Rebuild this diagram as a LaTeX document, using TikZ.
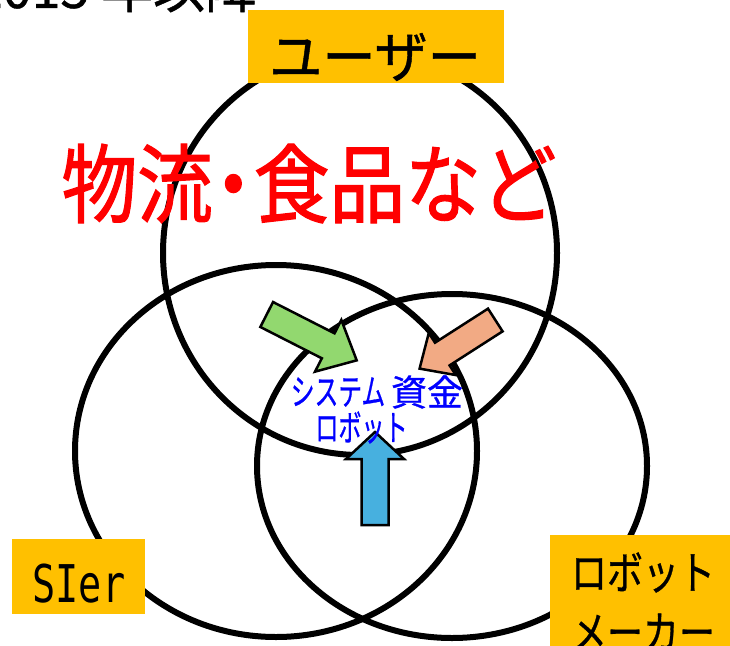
\documentclass[tikz,border=0pt]{standalone}
\usepackage{fontspec}
\usepackage{graphicx}
\newfontfamily\jp[FakeBold=0.8]{Noto Sans CJK JP}
\newfontfamily\jpred[FakeBold=1.5]{Noto Sans CJK JP}
\newfontfamily\gmono{DejaVu Sans Mono}
\definecolor{boxyellow}{HTML}{FFC000}
\definecolor{agreen}{HTML}{92D86F}
\definecolor{aorange}{HTML}{F2AA84}
\definecolor{ablue}{HTML}{47B0DF}
\tikzset{
  venn/.style={draw=black, line width=6pt},
  labelbox/.style={fill=boxyellow, draw=none},
  blockarrow/.style={draw=black, line width=2.5pt, line join=miter},
  txt/.style={inner sep=0pt, outer sep=0pt},
}
\begin{document}
\begin{tikzpicture}[x=1pt, y=-1pt]
\useasboundingbox (0,0) rectangle (730,645);
\clip (0,0) rectangle (730,645);
\fill[white] (0,0) rectangle (730,645);

% cropped title
\node[txt, anchor=base east] (title) at (257,8) {\jp\fontsize{52}{60}\selectfont 2015 年以降};

% Venn ellipses
\draw[venn] (360,253) ellipse [x radius=197, y radius=202];
\draw[venn] (276,451) ellipse [x radius=201, y radius=186];
\draw[venn] (452,466) ellipse [x radius=195, y radius=172];

% label boxes
\fill[labelbox] (248,10) rectangle (504,83);
\node[txt] (user) at (375,57) {\jp\fontsize{56}{64}\selectfont\scalebox{0.95}[1]{ユーザー}};

\fill[labelbox] (12,539) rectangle (145,614);
\node[txt] (sier) at (79,584) {\gmono\fontsize{52}{60}\selectfont\scalebox{0.74}[1]{SIer}};

\fill[labelbox] (550,535) rectangle (735,650);
\node[txt] (maker1) at (643,572.5) {\jp\fontsize{45}{52}\selectfont\scalebox{0.8}[1]{ロボット}};
\node[txt] (maker2) at (643,632) {\jp\fontsize{45}{52}\selectfont\scalebox{0.8}[1]{メーカー}};

% red heading
\node[txt, text=red] (field) at (309,183.5) {\jpred\fontsize{86}{100}\selectfont\scalebox{0.88}[1]{物流\kern-0.23em・\kern-0.23em食品など}};

% block arrows
\begin{scope}[shift={(266.7,314.5)}, rotate=-27]
  \draw[blockarrow, fill=agreen] (0,-14) -- (69,-14) -- (69,-29) -- (101,0) -- (69,29) -- (69,14) -- (0,14) -- cycle;
\end{scope}
\begin{scope}[shift={(495.3,320)}, rotate=-147.3]
  \draw[blockarrow, fill=aorange] (0,-13.5) -- (63,-13.5) -- (63,-25) -- (90,0) -- (63,25) -- (63,13.5) -- (0,13.5) -- cycle;
\end{scope}
\begin{scope}[shift={(375,525)}, rotate=90]
  \draw[blockarrow, fill=ablue] (0,-13.5) -- (66,-13.5) -- (66,-29) -- (93,0) -- (66,29) -- (66,13.5) -- (0,13.5) -- cycle;
\end{scope}

% blue centre text
\node[txt, text=blue] (sys) at (338,392) {\jp\fontsize{36}{42}\selectfont\scalebox{0.66}[1]{システム}};
\node[txt, text=blue] (fund) at (427,392) {\jp\fontsize{36}{42}\selectfont 資金};
\node[txt, text=blue] (robot) at (361.5,427.5) {\jp\fontsize{36}{42}\selectfont\scalebox{0.64}[1]{ロボット}};
\end{tikzpicture}
\end{document}
